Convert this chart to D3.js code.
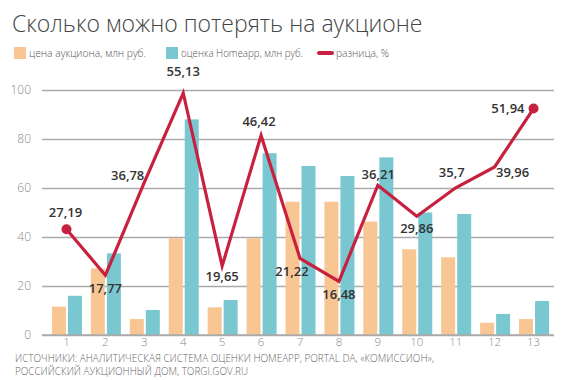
<!DOCTYPE html>
<html>
<head>
<meta charset="utf-8">
<script src="https://cdn.jsdelivr.net/npm/d3@7"></script>
<style>
  body { margin: 0; background: #fff; }
  svg { display: block; font-family: "Open Sans", sans-serif; }
</style>
</head>
<body>
<div id="chart"></div>
<script>
// lots 1..13
var categories = ['1', '2', '3', '4', '5', '6', '7', '8', '9', '10', '11', '12', '13'];
// auction price, mln rub
var auctionPrice = [11.6, 27.2, 6.5, 39.5, 11.3, 39.5, 54.4, 54.4, 46.3, 35, 31.7, 5, 6.5];
// Homeapp estimate, mln rub
var homeappValue = [16, 33.3, 10.2, 88, 14.3, 74.2, 69, 64.9, 72.5, 50, 49.4, 8.6, 13.9];
// difference, %
var diffPct = [27.19, 17.77, 36.78, 55.13, 19.65, 46.42, 21.22, 16.48, 36.21, 29.86, 35.7, 39.96, 51.94];
var diffLabels = ['27,19', '17,77', '36,78', '55,13', '19,65', '46,42', '21,22', '16,48', '36,21', '29,86', '35,7', '39,96', '51,94'];
var yTicks = [0, 20, 40, 60, 80, 100];

var width = 564, height = 380;
var colors = { price: '#f7c693', value: '#79c7d1', diff: '#c8213f' };

var svg = d3.select('#chart').append('svg')
  .attr('width', width)
  .attr('height', height);

var x = d3.scaleBand().domain(categories).range([47, 553]);
var y = d3.scaleLinear().domain([0, 100]).range([335, 90]);
// the percentage line uses its own scale
var yPct = d3.scaleLinear().domain([5.5, 55.75]).range([335, 90]);

// title
svg.append('text')
  .attr('x', 12).attr('y', 32)
  .attr('font-size', 23).attr('font-weight', 300)
  .attr('fill', '#444')
  .text('Сколько можно потерять на аукционе');

// legend
var legend = svg.append('g').attr('font-size', 11).attr('fill', '#555').attr('font-weight', 300);
legend.append('rect').attr('x', 14).attr('y', 47).attr('width', 12).attr('height', 12).attr('fill', colors.price);
legend.append('text').attr('x', 29).attr('y', 57)
  .attr('textLength', 117).attr('lengthAdjust', 'spacingAndGlyphs')
  .text('цена аукциона, млн руб.');
legend.append('rect').attr('x', 166).attr('y', 47).attr('width', 12).attr('height', 12).attr('fill', colors.value);
legend.append('text').attr('x', 181).attr('y', 57)
  .attr('textLength', 122).attr('lengthAdjust', 'spacingAndGlyphs')
  .text('оценка Homeapp, млн руб.');
legend.append('line').attr('x1', 319).attr('x2', 332).attr('y1', 53).attr('y2', 53)
  .attr('stroke', colors.diff).attr('stroke-width', 4).attr('stroke-linecap', 'round');
legend.append('text').attr('x', 336).attr('y', 57)
  .attr('textLength', 53).attr('lengthAdjust', 'spacingAndGlyphs')
  .text('разница, %');

// y grid + labels
var yAxis = d3.axisLeft(y).tickValues(yTicks).tickSize(-(554 - 42)).tickPadding(10);
var gy = svg.append('g').attr('transform', 'translate(42,0)').call(yAxis);
gy.select('.domain').remove();
gy.selectAll('.tick line').attr('stroke', '#aaa').attr('stroke-width', 1.5);
gy.selectAll('.tick text').attr('font-size', 12).attr('fill', '#888')
  .attr('font-family', '"Open Sans", sans-serif').attr('font-weight', 300).attr('x', -11);

// x labels
var xAxis = d3.axisBottom(x).tickSize(0).tickPadding(3);
var gx = svg.append('g').attr('transform', 'translate(0,335)').call(xAxis);
gx.select('.domain').remove();
gx.selectAll('.tick text').attr('font-size', 11.5).attr('fill', '#888')
  .attr('font-family', '"Open Sans", sans-serif').attr('font-weight', 300);

// bars
var barW = 14;
var bars = svg.append('g');
bars.selectAll('rect.price').data(auctionPrice).enter().append('rect')
  .attr('class', 'price')
  .attr('x', function(d, i) { return x(categories[i]) + x.bandwidth() / 2 - barW - 0.5; })
  .attr('y', function(d) { return y(d); })
  .attr('width', barW)
  .attr('height', function(d) { return y(0) - y(d); })
  .attr('fill', colors.price);
bars.selectAll('rect.value').data(homeappValue).enter().append('rect')
  .attr('class', 'value')
  .attr('x', function(d, i) { return x(categories[i]) + x.bandwidth() / 2 + 1.5; })
  .attr('y', function(d) { return y(d); })
  .attr('width', barW)
  .attr('height', function(d) { return y(0) - y(d); })
  .attr('fill', colors.value);

// redraw zero line over bars
svg.append('line').attr('x1', 42).attr('x2', 554).attr('y1', y(0)).attr('y2', y(0))
  .attr('stroke', '#aaa').attr('stroke-width', 1.5);

// difference line
var cx = function(i) { return x(categories[i]) + x.bandwidth() / 2; };
var line = d3.line()
  .x(function(d, i) { return cx(i); })
  .y(function(d) { return yPct(d); });
svg.append('path').datum(diffPct)
  .attr('d', line)
  .attr('fill', 'none')
  .attr('stroke', colors.diff)
  .attr('stroke-width', 3.2)
  .attr('stroke-linejoin', 'miter');
[0, diffPct.length - 1].forEach(function(i) {
  svg.append('circle').attr('cx', cx(i)).attr('cy', yPct(diffPct[i])).attr('r', 5).attr('fill', colors.diff);
});

// value labels: [dx, dy, anchor] relative to the point
var labelPos = [
  [-1, -12, 'middle'], [0, 18, 'middle'], [0, -2, 'end'], [0, -17, 'middle'],
  [0, 15, 'middle'], [-2, -9, 'middle'], [-8, 18, 'middle'], [0, 18, 'middle'],
  [17, -6, 'end'], [0, 17, 'middle'], [-4, -11, 'middle'], [18, 10, 'middle'],
  [-9, 4, 'end']
];
svg.append('g').selectAll('text').data(diffPct).enter().append('text')
  .attr('x', function(d, i) { return cx(i) + labelPos[i][0]; })
  .attr('y', function(d, i) { return yPct(d) + labelPos[i][1]; })
  .attr('text-anchor', function(d, i) { return labelPos[i][2]; })
  .attr('font-size', 13).attr('font-weight', 600).attr('fill', '#333')
  .text(function(d, i) { return diffLabels[i]; });

// sources
var src = svg.append('g').attr('font-size', 10).attr('fill', '#666').attr('font-weight', 300);
src.append('text').attr('x', 15).attr('y', 362)
  .attr('textLength', 419).attr('lengthAdjust', 'spacingAndGlyphs')
  .text('ИСТОЧНИКИ: АНАЛИТИЧЕСКАЯ СИСТЕМА ОЦЕНКИ HOMEAPP, PORTAL DA, «КОМИССИОН»,');
src.append('text').attr('x', 15).attr('y', 375)
  .attr('textLength', 233).attr('lengthAdjust', 'spacingAndGlyphs')
  .text('РОССИЙСКИЙ АУКЦИОННЫЙ ДОМ, TORGI.GOV.RU');
</script>
</body>
</html>
